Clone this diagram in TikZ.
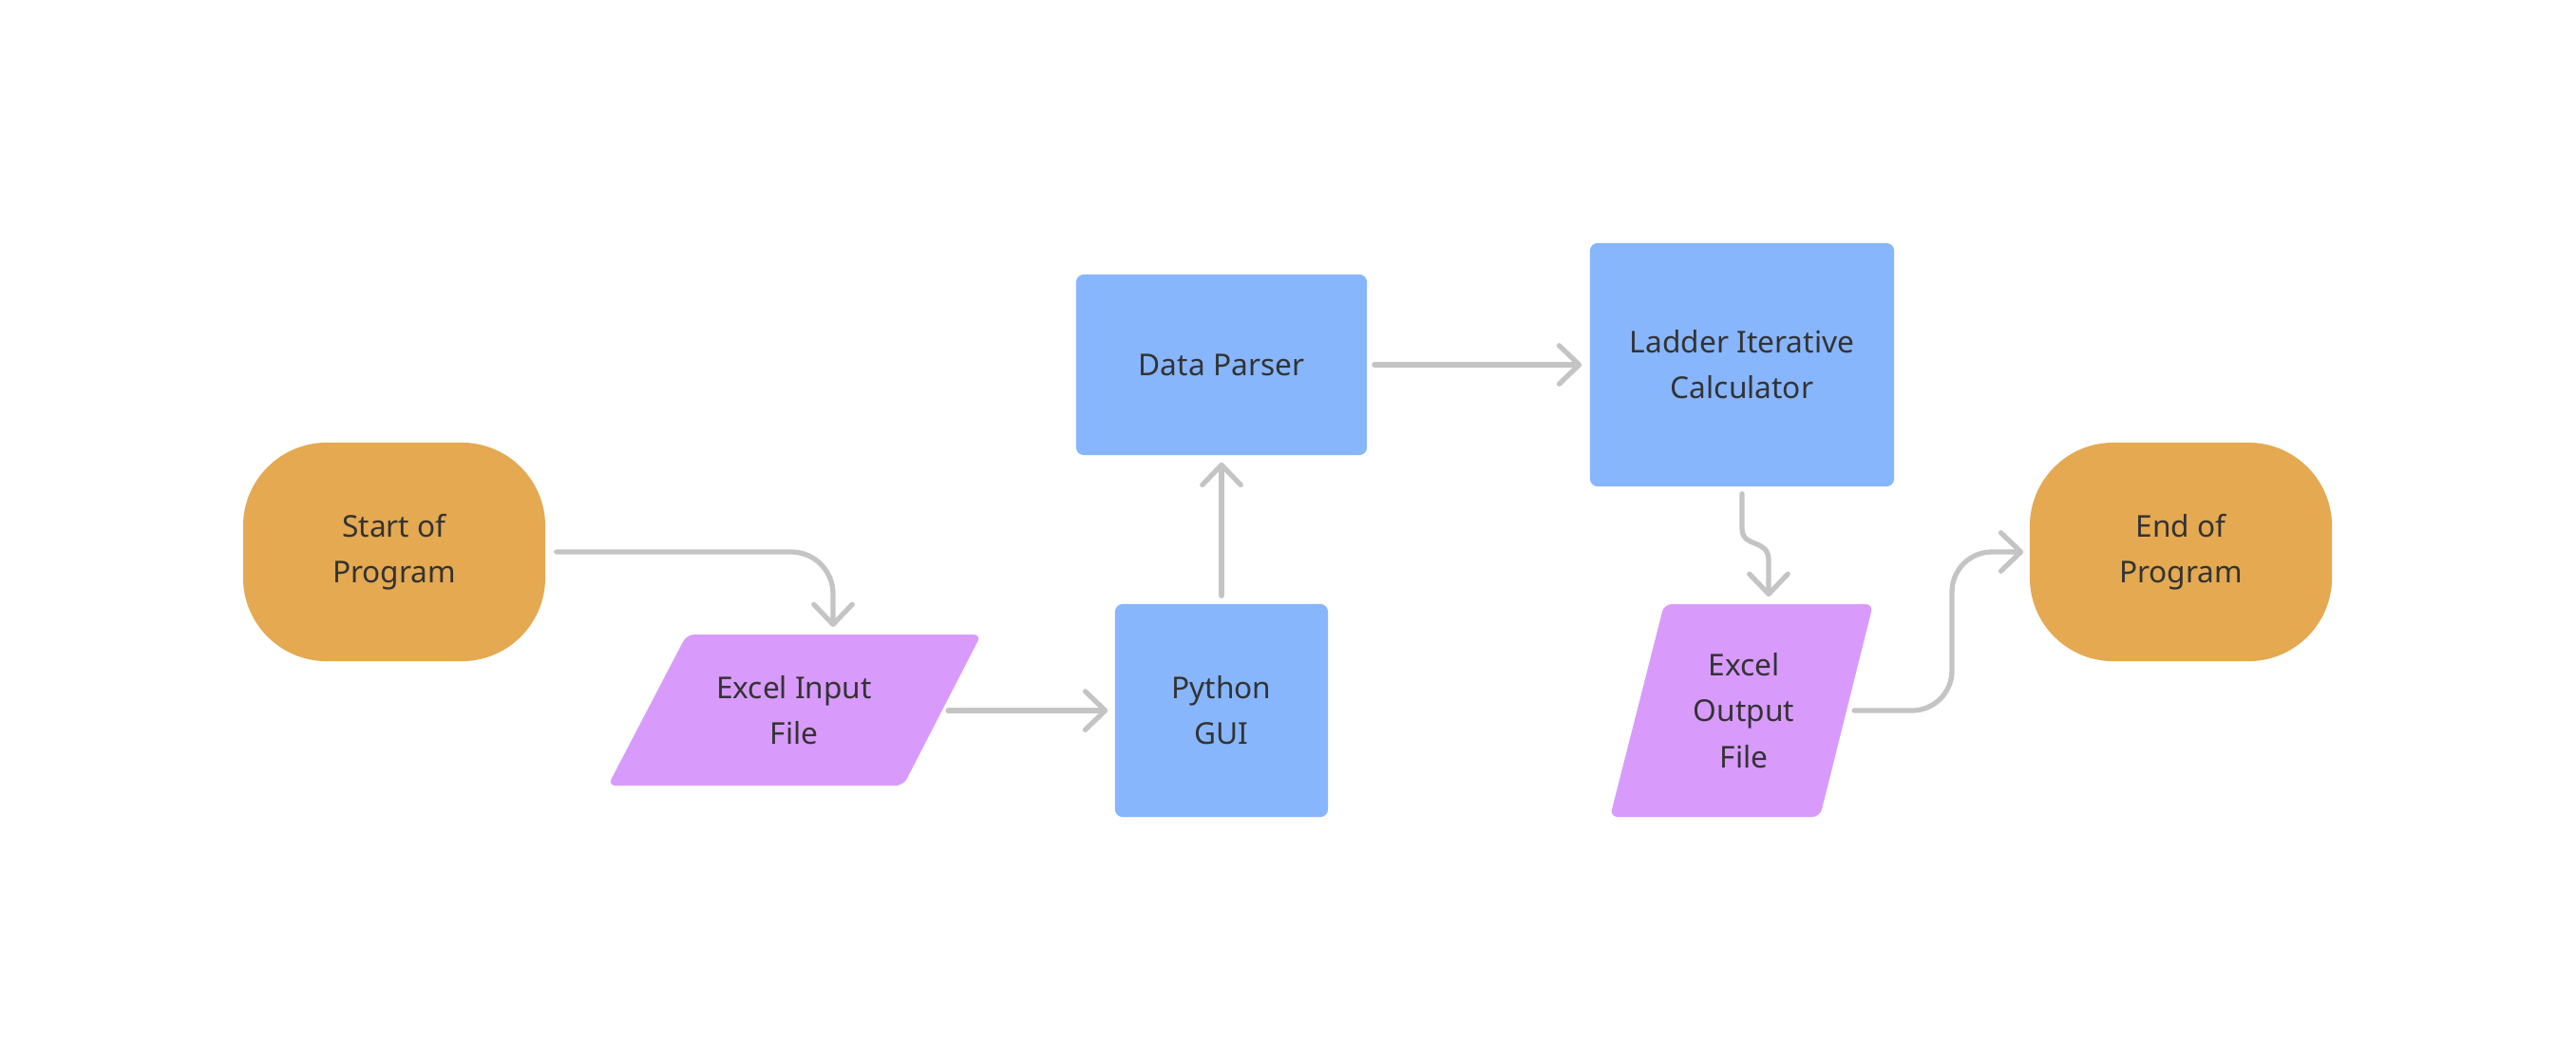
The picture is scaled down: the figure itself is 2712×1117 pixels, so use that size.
\documentclass[tikz,border=0pt]{standalone}
\usepackage{fontspec}
\setmainfont{Noto Sans}
\usetikzlibrary{arrows.meta}
\definecolor{orng}{HTML}{E4A951}
\definecolor{blu}{HTML}{87B6FD}
\definecolor{purp}{HTML}{D89BFC}
\definecolor{lin}{HTML}{C4C4C4}
\definecolor{txt}{HTML}{333333}
\tikzset{
 base/.style={text=txt, font=\fontsize{9pt}{13.7pt}\selectfont, align=center, inner sep=0pt},
 term/.style={base, fill=orng, rounded corners=0.88cm, minimum width=3.18cm, minimum height=2.30cm},
 proc/.style={base, fill=blu, rounded corners=0.08cm},
 io/.style={fill=purp, rounded corners=0.08cm},
 lbl/.style={base},
 arr/.style={draw=lin, line width=1.5pt, line cap=round, line join=round, -{Straight Barb[length=6pt,width=11.5pt,round]}},
}
\begin{document}
\begin{tikzpicture}[x=0.01cm,y=-0.01cm]
\useasboundingbox[fill=white] (0,0) rectangle (2712,1117);
% terminals
\node[term] (start) at (415,581) {Start of\\Program};
\node[term] (end) at (2296,581) {End of\\Program};
% processes
\node[proc, minimum width=2.24cm, minimum height=2.24cm] (gui) at (1286,748) {Python\\GUI};
\node[proc, minimum width=3.06cm, minimum height=1.90cm] (parser) at (1286,384) {Data Parser};
\node[proc, minimum width=3.20cm, minimum height=2.56cm] (ladder) at (1834,384) {Ladder Iterative\\Calculator};
% input parallelogram
\fill[io] (723,668) -- (1033,668) -- (951,827) -- (640,827) -- cycle;
\node[lbl] (inp) at (836,748) {Excel Input\\File};
\coordinate (inpT) at (877,668);
\coordinate (inpR) at (991,748);
% output parallelogram
\fill[io] (1752,636) -- (1972,636) -- (1916,860) -- (1695,860) -- cycle;
\node[lbl] (out) at (1836,748) {Excel\\Output\\File};
\coordinate (outT) at (1862,636);
\coordinate (outR) at (1944,748);
% connectors
\draw[arr, rounded corners=0.44cm] ([xshift=0.11cm]start.east) -| ([yshift=0.08cm]inpT);
\draw[arr] ([xshift=0.07cm]inpR) -- ([xshift=-0.07cm]gui.west);
\draw[arr] ([yshift=0.08cm]gui.north) -- ([yshift=-0.07cm]parser.south);
\draw[arr] ([xshift=0.07cm]parser.east) -- ([xshift=-0.08cm]ladder.west);
\coordinate (s1) at (1834,556);
\coordinate (s2) at (1862,590);
\draw[arr] ([yshift=-0.07cm]ladder.south) -- (s1) .. controls (1834,578) and (1862,566) .. (s2) -- ([yshift=0.08cm]outT);
\coordinate (b1) at (2055,748);
\coordinate (b2) at (2055,581);
\draw[arr, rounded corners=0.42cm] ([xshift=0.08cm]outR) -- (b1) -- (b2) -- ([xshift=-0.06cm]end.west);
\end{tikzpicture}
\end{document}
